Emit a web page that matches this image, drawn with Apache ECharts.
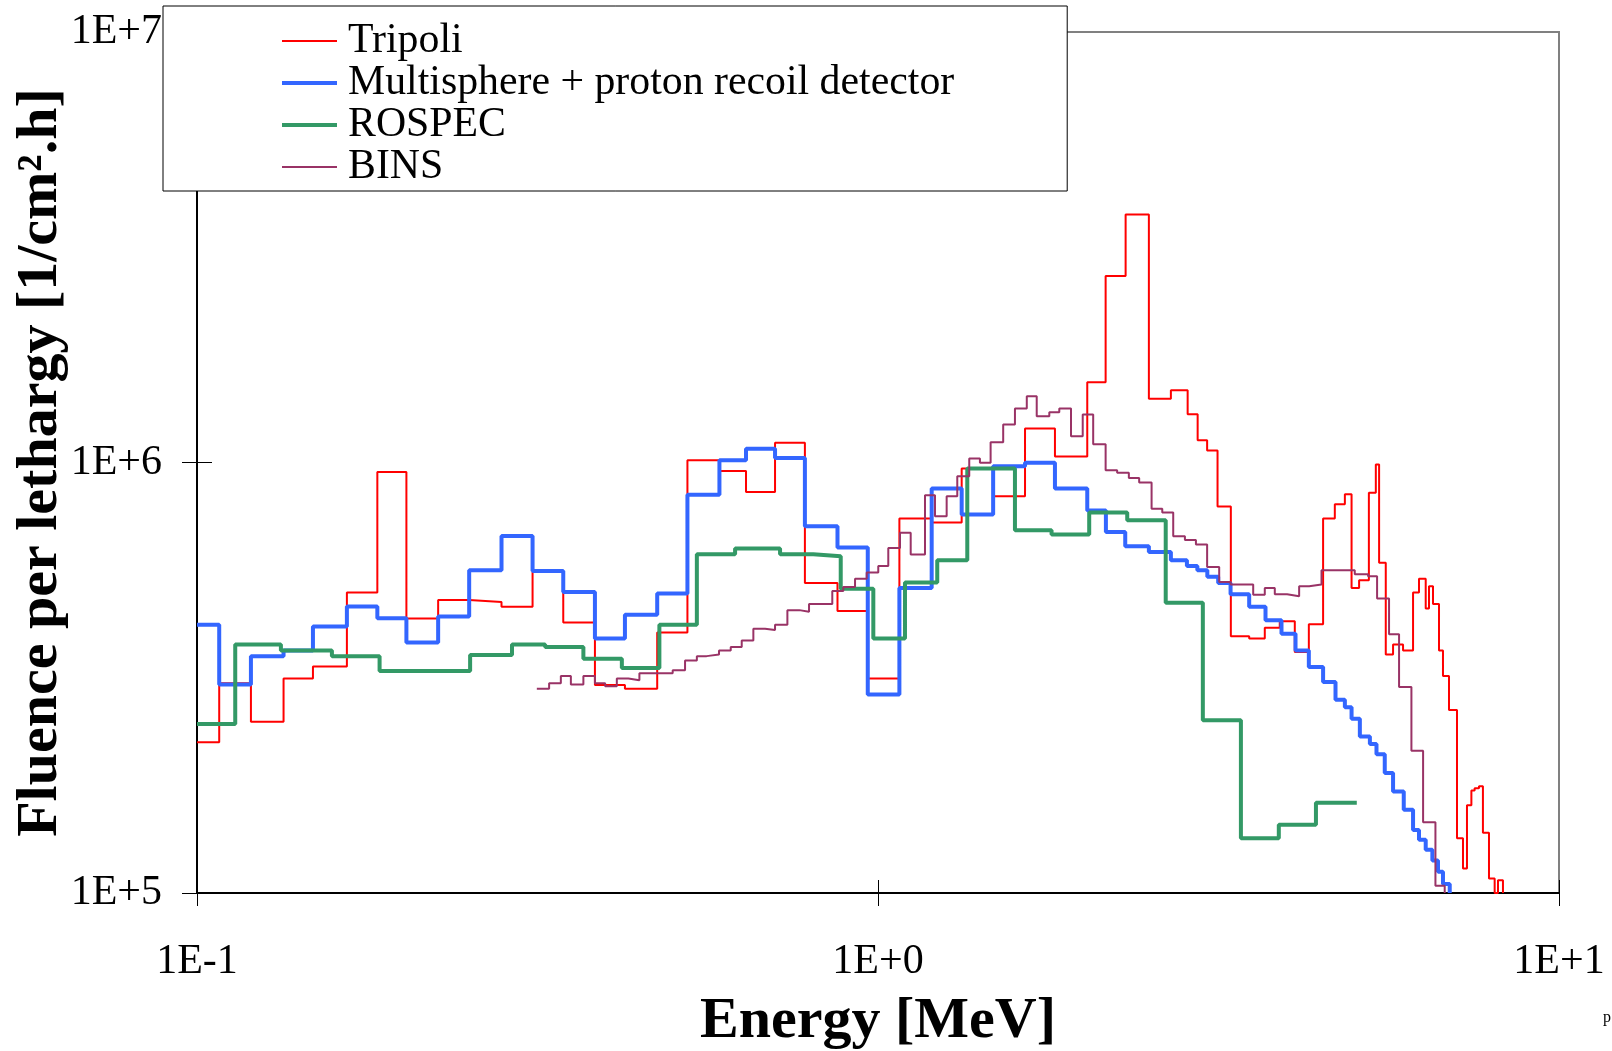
<!DOCTYPE html>
<html>
<head>
<meta charset="utf-8">
<script src="https://cdn.jsdelivr.net/npm/echarts@6/dist/echarts.min.js"></script>
<style>
  html, body { margin: 0; padding: 0; background: #fff; }
  #chart { width: 1612px; height: 1051px; }
</style>
</head>
<body>
<div id="chart"></div>
<script>
// bin edges (MeV) and fluence per lethargy for each spectrum
const tripoliEdges = [0.1, 0.1078, 0.120, 0.134, 0.148, 0.166, 0.184, 0.203, 0.226, 0.251, 0.280, 0.311, 0.345, 0.384, 0.425, 0.474, 0.525, 0.585, 0.640, 0.706, 0.781, 0.872, 0.966, 1.075, 1.199, 1.327, 1.476, 1.644, 1.819, 2.029, 2.159, 2.310, 2.499, 2.692, 2.849, 2.947, 3.043, 3.152, 3.297, 3.508, 3.698, 3.890, 4.093, 4.292, 4.504, 4.686, 4.848, 4.959, 5.087, 5.258, 5.383, 5.443, 5.567, 5.706, 5.902, 6.105, 6.229, 6.372, 6.443, 6.531, 6.665, 6.755, 6.894, 7.083, 7.228, 7.326, 7.436, 7.518, 7.630, 7.732, 7.892, 8.045, 8.136, 8.274];
const tripoliValues = [2.24e5, 3.07e5, 2.50e5, 3.15e5, 3.36e5, 4.99e5, 9.50e5, 4.34e5, 4.79e5, 4.74e5, 4.62e5, 5.57e5, 4.25e5, 3.04e5, 2.98e5, 4.03e5, 1.012e6, 9.56e5, 8.54e5, 1.112e6, 5.25e5, 4.52e5, 3.15e5, 7.41e5, 7.25e5, 9.68e5, 8.35e5, 1.199e6, 1.033e6, 1.536e6, 2.71e6, 3.77e6, 1.407e6, 1.472e6, 1.294e6, 1.126e6, 1.067e6, 7.90e5, 3.95e5, 3.90e5, 4.13e5, 4.28e5, 3.63e5, 4.21e5, 7.41e5, 8.00e5, 8.44e5, 5.11e5, 5.33e5, 8.51e5, 9.90e5, 5.85e5, 3.58e5, 3.78e5, 3.66e5, 4.99e5, 5.37e5, 4.58e5, 5.16e5, 4.69e5, 3.66e5, 3.19e5, 2.66e5, 1.34e5, 1.14e5, 1.60e5, 1.73e5, 1.75e5, 1.77e5, 1.38e5, 1.08e5, 1.00e5, 1.07e5];

const multisphereEdges = [0.1, 0.1078, 0.120, 0.134, 0.148, 0.166, 0.184, 0.203, 0.226, 0.251, 0.280, 0.311, 0.345, 0.384, 0.425, 0.474, 0.525, 0.585, 0.640, 0.706, 0.781, 0.872, 0.966, 1.075, 1.199, 1.327, 1.476, 1.644, 1.819, 2.029, 2.161, 2.307, 2.499, 2.692, 2.842, 2.944, 3.045, 3.159, 3.294, 3.508, 3.707, 3.913, 4.103, 4.292, 4.504, 4.697, 4.848, 4.959, 5.100, 5.276, 5.395, 5.548, 5.706, 5.916, 6.105, 6.229, 6.372, 6.517, 6.642, 6.755, 6.911];
const multisphereValues = [4.20e5, 3.05e5, 3.55e5, 3.66e5, 4.16e5, 4.63e5, 4.35e5, 3.82e5, 4.39e5, 5.62e5, 6.75e5, 5.60e5, 5.00e5, 3.90e5, 4.43e5, 4.96e5, 8.42e5, 1.012e6, 1.077e6, 1.024e6, 7.11e5, 6.35e5, 2.89e5, 5.11e5, 8.70e5, 7.57e5, 9.80e5, 9.98e5, 8.70e5, 7.74e5, 6.90e5, 6.39e5, 6.20e5, 5.93e5, 5.75e5, 5.62e5, 5.43e5, 5.25e5, 4.94e5, 4.62e5, 4.30e5, 4.00e5, 3.66e5, 3.35e5, 3.09e5, 2.81e5, 2.70e5, 2.54e5, 2.31e5, 2.22e5, 2.10e5, 1.90e5, 1.72e5, 1.56e5, 1.40e5, 1.33e5, 1.26e5, 1.19e5, 1.12e5, 1.05e5];

const rospecEdges = [0.1, 0.1138, 0.1328, 0.1578, 0.1854, 0.2518, 0.2901, 0.3245, 0.3693, 0.4206, 0.4775, 0.5420, 0.6168, 0.7181, 0.8035, 0.8816, 0.9843, 1.0955, 1.2218, 1.3524, 1.5889, 1.7983, 2.0424, 2.3226, 2.6454, 2.9992, 3.4112, 3.8776, 4.3963, 5.0474];
const rospecValues = [2.47e5, 3.78e5, 3.66e5, 3.55e5, 3.28e5, 3.57e5, 3.78e5, 3.73e5, 3.50e5, 3.33e5, 4.20e5, 6.12e5, 6.31e5, 6.12e5, 6.06e5, 5.09e5, 3.90e5, 5.26e5, 5.93e5, 9.68e5, 6.96e5, 6.80e5, 7.65e5, 7.34e5, 4.72e5, 2.52e5, 1.34e5, 1.44e5, 1.62e5];

const binsEdges = [0.3155, 0.3289, 0.3422, 0.3540, 0.3693, 0.3840, 0.3975, 0.4135, 0.4300, 0.4463, 0.4636, 0.4811, 0.4995, 0.5208, 0.5420, 0.5603, 0.5842, 0.6078, 0.6308, 0.6561, 0.6826, 0.7060, 0.7361, 0.7665, 0.7920, 0.8240, 0.8568, 0.8893, 0.9253, 0.9625, 1.0009, 1.0354, 1.0772, 1.1169, 1.1722, 1.2125, 1.2613, 1.3074, 1.3614, 1.4115, 1.4634, 1.5270, 1.5889, 1.6538, 1.7103, 1.7847, 1.8459, 1.9205, 1.9981, 2.0701, 2.1590, 2.2448, 2.3354, 2.4183, 2.5220, 2.6147, 2.7134, 2.8228, 2.9299, 3.0430, 3.1697, 3.2940, 3.4230, 3.5559, 3.6980, 3.8253, 3.9883, 4.1536, 4.2966, 4.4799, 4.6506, 4.8306, 5.0129, 5.2444, 5.4059, 5.6292, 5.8230, 6.0713, 6.3159, 6.5850, 6.7946];
const binsValues = [2.98e5, 3.07e5, 3.19e5, 3.05e5, 3.19e5, 3.07e5, 3.02e5, 3.15e5, 3.12e5, 3.24e5, 3.24e5, 3.24e5, 3.29e5, 3.47e5, 3.55e5, 3.58e5, 3.66e5, 3.73e5, 3.86e5, 4.11e5, 4.08e5, 4.20e5, 4.54e5, 4.50e5, 4.69e5, 4.69e5, 5.03e5, 5.14e5, 5.37e5, 5.55e5, 5.75e5, 6.33e5, 6.87e5, 6.11e5, 8.39e5, 7.50e5, 8.35e5, 9.29e5, 1.021e6, 9.99e5, 1.114e6, 1.225e6, 1.335e6, 1.425e6, 1.281e6, 1.308e6, 1.335e6, 1.150e6, 1.293e6, 1.102e6, 9.59e5, 9.47e5, 9.20e5, 8.98e5, 7.81e5, 7.65e5, 6.74e5, 6.61e5, 6.45e5, 5.72e5, 5.28e5, 5.21e5, 5.21e5, 4.93e5, 5.11e5, 4.94e5, 4.89e5, 5.16e5, 5.21e5, 5.62e5, 5.62e5, 5.62e5, 5.50e5, 5.44e5, 4.83e5, 3.99e5, 3.01e5, 2.14e5, 1.46e5, 1.04e5];

const X_MIN = 0.1, X_MAX = 10;
const Y_MIN = 1e5, Y_MAX = 1e7;

const FONT = '"Liberation Serif", "Times New Roman", serif';

// histogram -> points for a step:'end' line; optional drop down to the axis floor
function toSteps(edges, values, drop) {
  const pts = values.map((v, i) => [edges[i], v]);
  pts.push([edges[edges.length - 1], values[values.length - 1]]);
  if (drop) pts.push([edges[edges.length - 1], Y_MIN]);
  return pts;
}

function expLabel(v) {
  const e = Math.round(Math.log10(v));
  return '1E' + (e < 0 ? '-' : '+') + Math.abs(e);
}

function stepSeries(name, data, color, width) {
  return {
    name,
    type: 'line',
    step: 'end',
    data,
    symbol: 'none',
    lineStyle: { color, width },
    itemStyle: { color },
    emphasis: { disabled: true },
    z: 3,
  };
}

const chart = echarts.init(document.getElementById('chart'), null, { renderer: 'canvas' });

const axisLineStyle = { color: '#000', width: 2 };

chart.setOption({
  animation: false,
  backgroundColor: '#fff',
  textStyle: { fontFamily: FONT },
  grid: {
    left: 197, top: 32, right: 53, bottom: 158,
    outerBoundsMode: 'none',
    containLabel: false,
    show: true, borderColor: '#808080', borderWidth: 2, backgroundColor: 'transparent',
  },
  legend: {
    left: 163, top: 6,
    orient: 'vertical',
    padding: [14, 113, 3, 117],
    itemGap: 0,
    itemWidth: 55,
    itemHeight: 14,
    backgroundColor: '#fff',
    borderColor: '#000',
    borderWidth: 1,
    selectedMode: false,
    itemStyle: { opacity: 0 },
    textStyle: { fontFamily: FONT, fontSize: 41.8, color: '#000', lineHeight: 42, padding: [0, 0, 0, 6] },
    data: [
      { name: 'Tripoli', lineStyle: { width: 2 } },
      { name: 'Multisphere + proton recoil detector', lineStyle: { width: 4 } },
      { name: 'ROSPEC', lineStyle: { width: 4 } },
      { name: 'BINS', lineStyle: { width: 2 } },
    ],
  },
  xAxis: [
    {
      type: 'log', logBase: 10, min: X_MIN, max: X_MAX,
      name: 'Energy [MeV]', nameLocation: 'middle', nameGap: 100,
      nameTextStyle: { fontFamily: FONT, fontSize: 58, fontWeight: 'bold', color: '#000' },
      axisLine: { lineStyle: axisLineStyle },
      axisTick: { length: 13, lineStyle: { color: '#000', width: 1 } },
      minorTick: { show: false },
      splitLine: { show: false },
      axisLabel: { formatter: expLabel, fontFamily: FONT, fontSize: 42, color: '#000', margin: 48 },
    },
    {
      type: 'log', logBase: 10, min: X_MIN, max: X_MAX, position: 'bottom',
      axisLine: { show: false },
      axisTick: { inside: true, length: 13, lineStyle: { color: '#000', width: 1 } },
      axisLabel: { show: false },
      splitLine: { show: false },
    },
  ],
  yAxis: [
    {
      type: 'log', logBase: 10, min: Y_MIN, max: Y_MAX,
      name: 'Fluence per lethargy [1/cm\u00b2.h]', nameLocation: 'middle', nameGap: 127,
      nameMoveOverlap: false,
      nameTextStyle: { fontFamily: FONT, fontSize: 58, fontWeight: 'bold', color: '#000' },
      axisLine: { lineStyle: axisLineStyle },
      axisTick: { length: 15, lineStyle: { color: '#000', width: 1 } },
      minorTick: { show: false },
      splitLine: { show: false },
      axisLabel: { formatter: expLabel, fontFamily: FONT, fontSize: 42, color: '#000', margin: 35 },
    },
    {
      type: 'log', logBase: 10, min: Y_MIN, max: Y_MAX, position: 'left',
      axisLine: { show: false },
      axisTick: { inside: true, length: 15, lineStyle: { color: '#000', width: 1 } },
      axisLabel: { show: false },
      splitLine: { show: false },
    },
  ],
  graphic: [
    { type: 'text', left: 1603, top: 1010, style: { text: 'p', font: '16px ' + FONT, fill: '#000' } },
  ],
  series: [
    stepSeries('Tripoli', toSteps(tripoliEdges, tripoliValues, true), '#ff0000', 2),
    stepSeries('Multisphere + proton recoil detector', toSteps(multisphereEdges, multisphereValues, true), '#3366ff', 4),
    stepSeries('ROSPEC', toSteps(rospecEdges, rospecValues, false), '#339966', 4),
    stepSeries('BINS', toSteps(binsEdges, binsValues, true), '#993366', 2),
  ],
});
</script>
</body>
</html>
